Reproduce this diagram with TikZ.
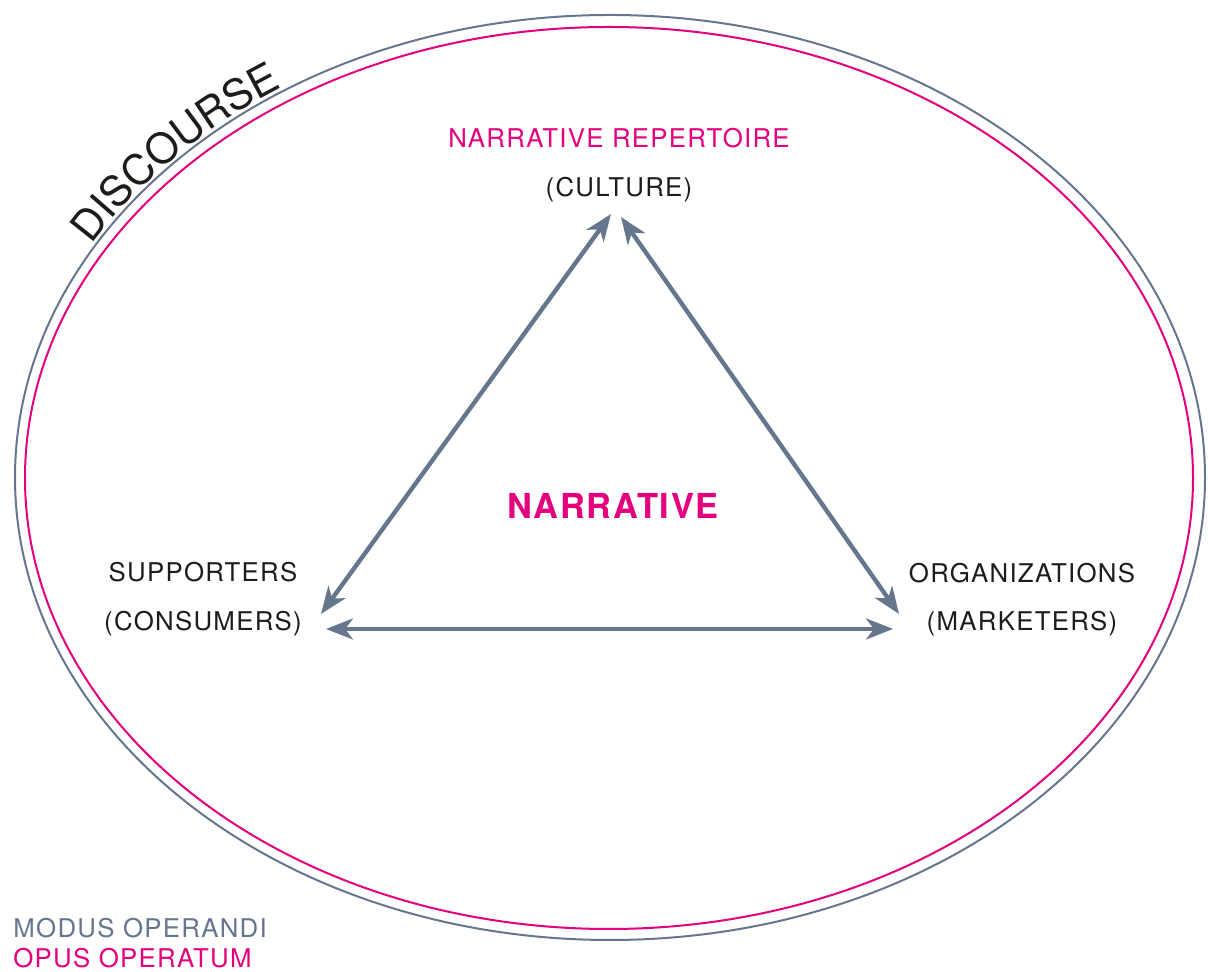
\documentclass[tikz,border=0pt]{standalone}
\usepackage{fontspec}
\setmainfont{TeX Gyre Heros}[LetterSpace=5]
\usetikzlibrary{arrows.meta,decorations.text}

\definecolor{slate}{HTML}{66768C}
\definecolor{narrpink}{HTML}{E4007C}
\definecolor{inkblack}{HTML}{1C1C1C}

\begin{document}
\begin{tikzpicture}[x=0.5pt,y=0.5pt,
    lbl/.style={anchor=base,inner sep=0pt,text=inkblack,
      font=\fontsize{12.9}{15}\selectfont},
    link/.style={draw=slate,line width=2.2pt,
      >={Stealth[length=13.5pt,width=10.5pt,inset=4pt]},<->}]
  \useasboundingbox (0,0) rectangle (1208,972);

  % the two rings: discourse outside, narrative space inside
  \coordinate (c) at (610,494.5);
  \draw[slate,line width=1pt] (c) ellipse [x radius=595, y radius=462.5];
  \draw[narrpink,line width=1pt] (609,494) ellipse [x radius=584, y radius=451];

  % word set along the outer ring
  \path[decorate,decoration={text along path,text align=center,text color=inkblack,
      text={|\fontsize{21}{24}\selectfont|DISCOURSE}}]
    (c) ++(157:599 and 466) arc [start angle=157, end angle=117, x radius=599, y radius=466];

  % corners of the triangle
  \node[lbl,text=narrpink] (rep) at (619,824) {NARRATIVE REPERTOIRE};
  \node[lbl] (cul) at (619,775) {(CULTURE)};
  \node[lbl] (sup) at (203,390) {SUPPORTERS};
  \node[lbl] (con) at (203,341) {(CONSUMERS)};
  \node[lbl] (org) at (1022,389) {ORGANIZATIONS};
  \node[lbl] (mkt) at (1022,341) {(MARKETERS)};
  \node[lbl,text=narrpink,font=\fontsize{17.2}{20}\selectfont\bfseries] (nar) at (613,453) {NARRATIVE};

  % arrow ends
  \coordinate (sup-a) at (321,358);
  \coordinate (sup-b) at (326,343);
  \coordinate (cul-a) at (611,758);
  \coordinate (cul-b) at (621,755);
  \coordinate (org-a) at (899,358);
  \coordinate (org-b) at (893,343);
  \foreach \a/\b in {sup-a/cul-a,cul-b/org-a,sup-b/org-b}
    \draw[link] (\a) -- (\b);

  % legend
  \node[lbl,anchor=base west,text=slate] (modus) at (13,34) {MODUS OPERANDI};
  \node[lbl,anchor=base west,text=narrpink] (opus) at (13,4) {OPUS OPERATUM};
\end{tikzpicture}
\end{document}
